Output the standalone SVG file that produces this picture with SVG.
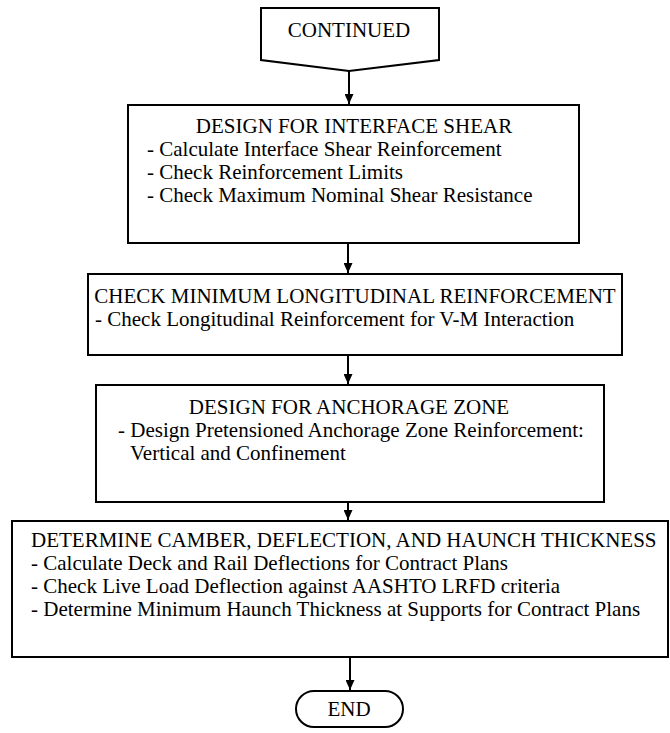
<svg xmlns="http://www.w3.org/2000/svg" width="670" height="733" viewBox="0 0 670 733">
<style>
.box{fill:#fff;stroke:#000;stroke-width:2}
.t{font-family:"Liberation Serif","Times New Roman",serif;font-size:21px;fill:#000}
.c{text-anchor:middle}
.ln{stroke:#000;stroke-width:2;fill:none}
</style>
<defs>
<marker id="ah" viewBox="0 0 10 9" refX="10" refY="4.5" markerWidth="10" markerHeight="9" markerUnits="userSpaceOnUse" orient="auto">
<path d="M0,0 L10,4.5 L0,9 z" fill="#000"/>
</marker>
</defs>
<rect width="670" height="733" fill="#fff"/>
<g id="connectors">
<line class="ln" x1="349" y1="71" x2="349" y2="104" marker-end="url(#ah)"/>
<line class="ln" x1="348" y1="243" x2="348" y2="273" marker-end="url(#ah)"/>
<line class="ln" x1="348" y1="355" x2="348" y2="384" marker-end="url(#ah)"/>
<line class="ln" x1="348" y1="502" x2="348" y2="520" marker-end="url(#ah)"/>
<line class="ln" x1="350" y1="657" x2="350" y2="690" marker-end="url(#ah)"/>
</g>
<g id="continued">
<polygon class="box" points="261,8 439,8 439,60 349,71 261,60"/>
<text class="t c" x="349" y="37">CONTINUED</text>
</g>
<g id="interface-shear">
<rect class="box" x="128" y="105" width="451" height="138"/>
<text class="t c" x="354" y="133">DESIGN FOR INTERFACE SHEAR</text>
<text class="t" x="147" y="156">- Calculate Interface Shear Reinforcement</text>
<text class="t" x="147" y="179">- Check Reinforcement Limits</text>
<text class="t" x="147" y="202">- Check Maximum Nominal Shear Resistance</text>
</g>
<g id="longitudinal">
<rect class="box" x="88" y="274" width="534" height="81"/>
<text class="t c" x="355" y="303">CHECK MINIMUM LONGITUDINAL REINFORCEMENT</text>
<text class="t" x="95" y="326">- Check Longitudinal Reinforcement for V-M Interaction</text>
</g>
<g id="anchorage">
<rect class="box" x="96" y="385" width="508" height="117"/>
<text class="t c" x="349" y="414">DESIGN FOR ANCHORAGE ZONE</text>
<text class="t" x="118" y="437">- Design Pretensioned Anchorage Zone Reinforcement:</text>
<text class="t" x="130" y="460">Vertical and Confinement</text>
</g>
<g id="camber">
<rect class="box" x="12" y="521" width="656" height="136"/>
<text class="t" x="31" y="547">DETERMINE CAMBER, DEFLECTION, AND HAUNCH THICKNESS</text>
<text class="t" x="31" y="570">- Calculate Deck and Rail Deflections for Contract Plans</text>
<text class="t" x="31" y="593">- Check Live Load Deflection against AASHTO LRFD criteria</text>
<text class="t" x="31" y="616">- Determine Minimum Haunch Thickness at Supports for Contract Plans</text>
</g>
<g id="end">
<rect class="box" x="296" y="691" width="107" height="36" rx="18"/>
<text class="t c" x="349" y="716">END</text>
</g>
</svg>
